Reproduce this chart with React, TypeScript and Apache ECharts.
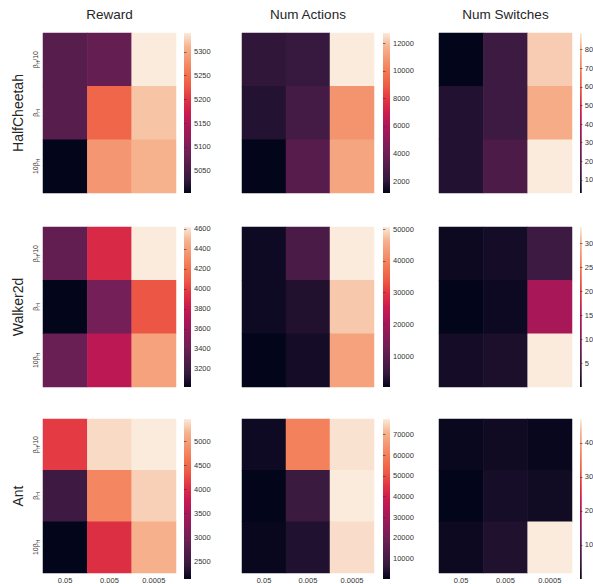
import React, { useEffect, useRef } from 'react';
import * as echarts from 'echarts';

const environments = ['HalfCheetah', 'Walker2d', 'Ant'];
const metrics = ['Reward', 'Num Actions', 'Num Switches'];
const rowLabels = ['β{s|H}/10', 'β{s|H}', '10β{s|H}'];
const colLabels = ['0.05', '0.005', '0.0005'];

// rows: βH/10, βH, 10βH ; columns: colLabels
const halfCheetahReward = [[5064, 5077, 5340], [5064, 5240, 5320], [5003, 5285, 5310]];
const halfCheetahActions = [[2000, 2150, 12750], [1750, 2600, 10780], [1130, 3220, 11350]];
const halfCheetahSwitches = [[29, 117, 850], [73, 117, 800], [73, 160, 890]];

const walkerReward = [[3355, 3900, 4620], [3019, 3435, 4075], [3387, 3755, 4410]];
const walkerActions = [[1400, 7430, 50640], [1400, 2900, 48000], [400, 1900, 44000]];
const walkerSwitches = [[0.5, 1.0, 3.5], [0, 0.6, 13.5], [1.0, 1.4, 33.4]];

const antReward = [[4130, 5380, 5465], [2500, 4780, 5330], [2133, 4030, 5150]];
const antActions = [[1650, 60550, 76500], [100, 7850, 77600], [875, 4000, 76000]];
const antSwitches = [[0.5, 1.0, 0.4], [0, 1.5, 1.1], [0.7, 2.3, 47]];

const colorbarSteps = [
  [50, 2000, 100],
  [200, 10000, 5],
  [500, 10000, 10],
];

const rocket = [
  '#03051a', '#35193e', '#521c4a', '#701f57', '#8e1b58', '#ad1759', '#cb1b4f',
  '#e13342', '#ed5a45', '#f37651', '#f49570', '#f6b48f', '#faebdd',
];

const colLeft = [43, 242, 439];
const heatW = [133, 132, 133];
const rowTop = [33, 227, 419];
const heatH = 160;
const cbLeft = [184, 383, 580];
const cbW = 7;
const font = '"Liberation Sans", Arial, sans-serif';

export default function App() {
  const ref = useRef<HTMLDivElement>(null);
  useEffect(() => {
    const chart = echarts.init(ref.current!, null, { renderer: 'svg' });
    const matrices = [
      [halfCheetahReward, halfCheetahActions, halfCheetahSwitches],
      [walkerReward, walkerActions, walkerSwitches],
      [antReward, antActions, antSwitches],
    ];
    const grids: any[] = [];
    const xAxes: any[] = [];
    const yAxes: any[] = [];
    const series: any[] = [];
    const visualMaps: any[] = [];
    const gradientStops = rocket.map((c, i) => ({ offset: i / (rocket.length - 1), color: c }));

    matrices.forEach((rowMats, r) => {
      rowMats.forEach((mat, c) => {
        const flat = mat.flat();
        const vmin = Math.min(...flat);
        const vmax = Math.max(...flat);
        const hi = grids.length;
        grids.push({ left: colLeft[c], top: rowTop[r], width: heatW[c], height: heatH });
        xAxes.push({
          type: 'category', gridIndex: hi, data: colLabels,
          axisLine: { show: false }, axisTick: { show: false }, splitLine: { show: false },
          axisLabel: { show: r === 2, fontSize: 7.5, color: '#333', margin: 3, fontFamily: font },
        });
        yAxes.push({
          type: 'category', gridIndex: hi, data: rowLabels, inverse: true,
          axisLine: { show: false }, axisTick: { show: false }, splitLine: { show: false },
          axisLabel: {
            show: c === 0, rotate: 90, fontSize: 7, lineHeight: 10, color: '#333', margin: 3, fontFamily: font,
            rich: { s: { fontSize: 5, lineHeight: 5, verticalAlign: 'bottom', color: '#333', fontFamily: font } },
          },
          name: c === 0 ? environments[r] : '',
          nameLocation: 'middle', nameRotate: 90, nameGap: 18,
          nameTextStyle: { fontSize: 14, color: '#262626', fontFamily: font },
        });
        const sIdx = series.length;
        series.push({
          type: 'heatmap', xAxisIndex: hi, yAxisIndex: hi,
          data: mat.flatMap((row, y) => row.map((v, x) => [x, y, v])),
          emphasis: { disabled: true }, itemStyle: { borderWidth: 0 },
        });
        visualMaps.push({
          type: 'continuous', seriesIndex: sIdx, dimension: 2, min: vmin, max: vmax,
          show: false, inRange: { color: rocket },
        });
        const ci = grids.length;
        grids.push({
          left: cbLeft[c], top: rowTop[r], width: cbW, height: heatH,
          show: true, borderWidth: 0,
          backgroundColor: new echarts.graphic.LinearGradient(0, 1, 0, 0, gradientStops),
        });
        xAxes.push({ type: 'value', gridIndex: ci, show: false, min: 0, max: 1 });
        const step = colorbarSteps[r][c];
        yAxes.push({
          type: 'value', gridIndex: ci, position: 'right', min: vmin, max: vmax,
          minInterval: step, maxInterval: step,
          axisLine: { show: false }, splitLine: { show: false },
          axisTick: { show: true, length: 2.5, lineStyle: { color: '#333', width: 0.6 } },
          axisLabel: {
            fontSize: 7.5, color: '#333', margin: 3, showMinLabel: false, showMaxLabel: false, fontFamily: font,
            formatter: (v: number) => String(v),
          },
        });
      });
    });

    chart.setOption({
      animation: false,
      backgroundColor: '#ffffff',
      grid: grids,
      xAxis: xAxes,
      yAxis: yAxes,
      series,
      visualMap: visualMaps,
      graphic: metrics.map((m, c) => ({
        type: 'text',
        x: colLeft[c] + heatW[c] / 2,
        y: 14,
        style: {
          text: m, fontSize: 13.5, fontFamily: font, fill: '#262626',
          textAlign: 'center', align: 'center', textVerticalAlign: 'middle', verticalAlign: 'middle',
        },
      })),
    });
    return () => chart.dispose();
  }, []);
  return <div ref={ref} style={{ position: 'fixed', left: 0, top: 0, width: 593, height: 584 }} />;
}
